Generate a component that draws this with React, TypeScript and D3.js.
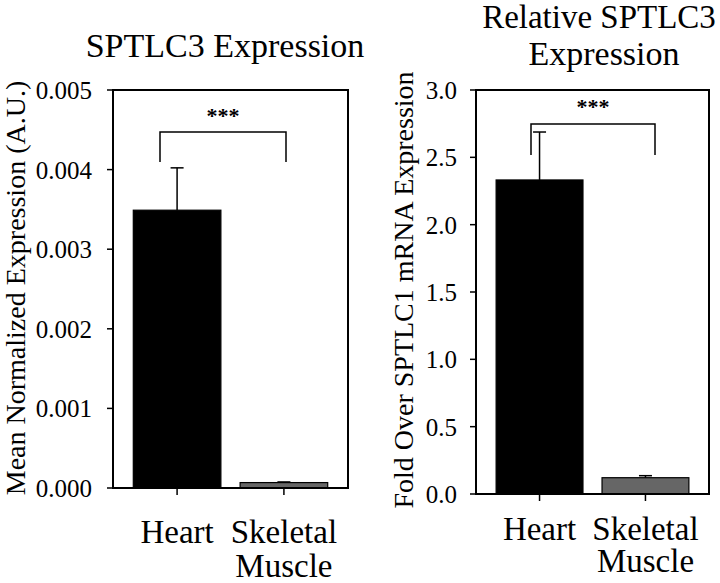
import React from "react";
import * as d3 from "d3";

const categories = ["Heart", "Skeletal Muscle"];
const leftValues = [0.00349, 0.000068];
const leftErrors = [0.000532, 0.000008];
const rightValues = [2.332, 0.121];
const rightErrors = [0.356, 0.015];
const leftTicks = [0, 0.001, 0.002, 0.003, 0.004, 0.005];
const rightTicks = [0, 0.5, 1.0, 1.5, 2.0, 2.5, 3.0];
const barColors = ["#000000", "#666666"];

const FONT = "Liberation Serif";

type PanelProps = {
  x0: number; x1: number; y0: number; y1: number;
  max: number; values: number[]; errors: number[]; ticks: number[]; fmt: string;
  bracketY: number; bracketDrop: number; bracketLX: number; bracketRX: number;
  starY: number; labelX: number; label: string; labelY: number;
  catBase: number; catGap: number; tickGap: number;
};

function Panel(p: PanelProps) {
  const y = d3.scaleLinear().domain([0, p.max]).range([p.y1, p.y0]);
  const x = d3.scaleBand<string>().domain(categories).range([p.x0, p.x1]).paddingInner(0.18).paddingOuter(0.19);
  const f = d3.format(p.fmt);
  const bw = x.bandwidth();
  return (
    <g>
      {categories.map((c, i) => {
        const bx = x(c)!;
        const cx = bx + bw / 2;
        const top = y(p.values[i]);
        const et = y(p.values[i] + p.errors[i]);
        return (
          <g key={c}>
            <line x1={cx} x2={cx} y1={top} y2={et} stroke="#000" strokeWidth={1.5} />
            <line x1={cx - 6.5} x2={cx + 6.5} y1={et} y2={et} stroke="#000" strokeWidth={1.5} />
            <rect x={bx} y={top} width={bw} height={p.y1 - top} fill={barColors[i]} stroke="#000" strokeWidth={1.2} />
            <line x1={cx} x2={cx} y1={p.y1} y2={p.y1 + 7} stroke="#000" strokeWidth={1.5} />
            {c.split(" ").map((w, j) => (
              <text key={w} x={cx} y={p.catBase + j * p.catGap} textAnchor="middle" fontFamily={FONT} fontSize={33}>{w}</text>
            ))}
          </g>
        );
      })}
      <rect x={p.x0} y={p.y0} width={p.x1 - p.x0} height={p.y1 - p.y0} fill="none" stroke="#000" strokeWidth={2} />
      {p.ticks.map((t) => (
        <g key={t}>
          <line x1={p.x0 - 6} x2={p.x0} y1={y(t)} y2={y(t)} stroke="#000" strokeWidth={1.5} />
          <text x={p.x0 - p.tickGap} y={y(t)} dy="0.36em" textAnchor="end" fontFamily={FONT} fontSize={25}>{f(t)}</text>
        </g>
      ))}
      <path d={`M${p.bracketLX},${p.bracketY + p.bracketDrop}V${p.bracketY}H${p.bracketRX}V${p.bracketY + p.bracketDrop}`} fill="none" stroke="#000" strokeWidth={1.5} />
      <text x={(p.bracketLX + p.bracketRX) / 2} y={p.starY} textAnchor="middle" fontFamily={FONT} fontSize={22} fontWeight="bold">***</text>
      <text transform={`translate(${p.labelX},${p.labelY}) rotate(-90)`} textAnchor="middle" fontFamily={FONT} fontSize={28}>{p.label}</text>
    </g>
  );
}

export default function App() {
  return (
    <svg width={720} height={583} fontFamily={FONT} style={{ position: "absolute", left: 0, top: 0, background: "#fff", fontFamily: FONT }}>
      <rect width={720} height={583} fill="#fff" />
      <text x={225} y={57} textAnchor="middle" fontFamily={FONT} fontSize={34}>SPTLC3 Expression</text>
      <text x={599} y={28} textAnchor="middle" fontFamily={FONT} fontSize={33}>Relative SPTLC3</text>
      <text x={604} y={65} textAnchor="middle" fontFamily={FONT} fontSize={34}>Expression</text>
      <Panel x0={113} x1={348} y0={90} y1={488} max={0.005} values={leftValues} errors={leftErrors}
        ticks={leftTicks} fmt=".3f" bracketY={132} bracketDrop={30} bracketLX={160} bracketRX={286}
        starY={123} labelX={25} label="Mean Normalized Expression (A.U.)" labelY={288}
        catBase={543} catGap={34} tickGap={21} />
      <Panel x0={476} x1={709} y0={90} y1={494} max={3} values={rightValues} errors={rightErrors}
        ticks={rightTicks} fmt=".1f" bracketY={124} bracketDrop={31} bracketLX={531} bracketRX={655}
        starY={114} labelX={413} label="Fold Over SPTLC1 mRNA Expression" labelY={290}
        catBase={540} catGap={32} tickGap={19} />
    </svg>
  );
}
